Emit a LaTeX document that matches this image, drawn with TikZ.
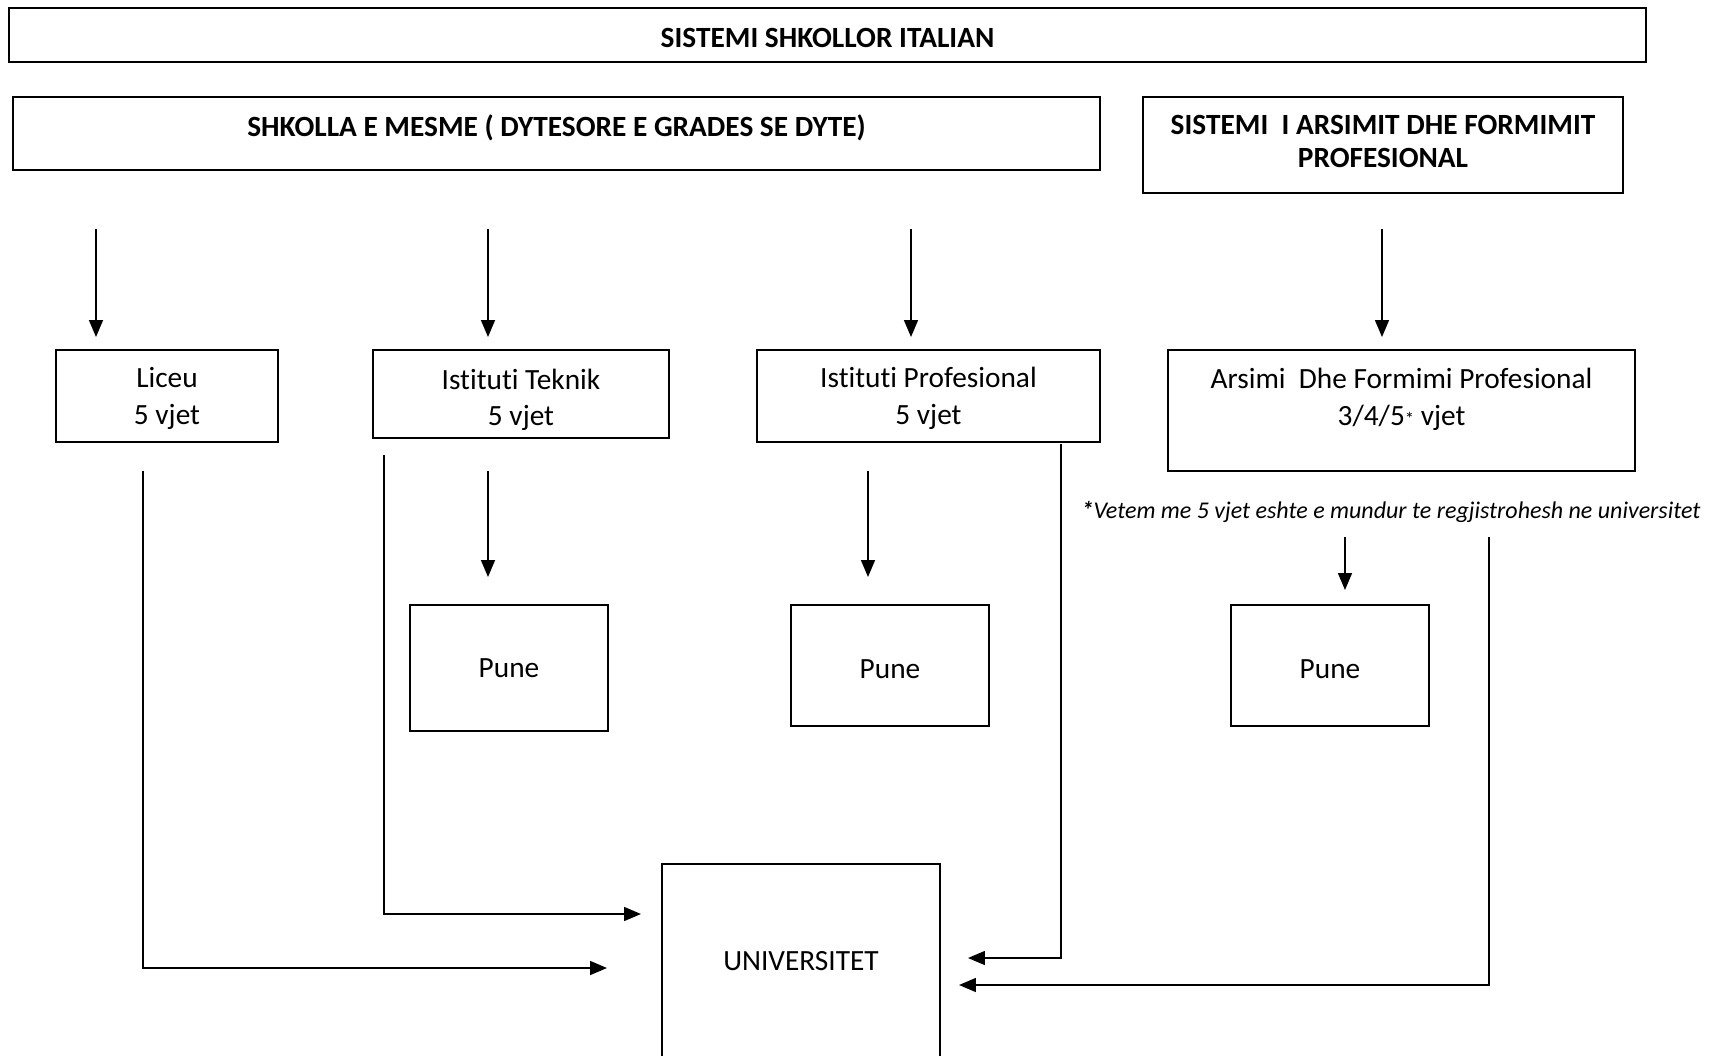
\documentclass[tikz,border=0pt]{standalone}
\usepackage{fontspec}
\setmainfont{Carlito}[Ligatures=CommonOff]
\usetikzlibrary{positioning, arrows.meta}

\begin{document}
\begin{tikzpicture}[x=0.375pt, y=-0.375pt,
  box/.style={draw, line width=0.75pt, align=center, inner sep=0pt, font=\fontsize{11}{13.7}\selectfont},
  head/.style={box, font=\fontsize{11}{12.4}\selectfont\bfseries},
  note/.style={font=\fontsize{9}{11}\selectfont\itshape, inner sep=0pt},
  arr/.style={line width=0.55pt, -{Triangle[length=6.3pt, width=5.2pt]}},
  link/.style={line width=0.55pt}]
\useasboundingbox (0,0) rectangle (1730,1055);

% Headers
\node[head, minimum width=1637*0.375pt, minimum height=54*0.375pt, text height=9pt, text depth=0pt] (title) at (827.5,35) {SISTEMI SHKOLLOR ITALIAN};
\node[head, minimum width=1087*0.375pt, minimum height=73*0.375pt, text depth=6pt] (mesme) at (556.5,133.5) {SHKOLLA E MESME ( DYTESORE E GRADES SE DYTE)};
\node[head, minimum width=480*0.375pt, minimum height=96*0.375pt, text depth=2.6pt] (sistemi) at (1383,145) {SISTEMI\ \ I ARSIMIT DHE FORMIMIT\\PROFESIONAL};

% Schools (\kern0pt keeps t and i apart)
\node[box, minimum width=222*0.375pt, minimum height=92*0.375pt, text depth=0pt] (liceu) at (167,396) {Liceu\\5 vjet};
\node[box, minimum width=296*0.375pt, minimum height=88*0.375pt, text depth=0pt] (teknik) at (521,394) {\rule{0pt}{10pt}Ist\kern0pt itut\kern0pt i Teknik\\5 vjet};
\node[box, minimum width=343*0.375pt, minimum height=92*0.375pt, text depth=0pt] (prof) at (928.5,396) {Ist\kern0pt itut\kern0pt i Profesional\\5 vjet};
\node[box, minimum width=467*0.375pt, minimum height=121*0.375pt, text depth=10.2pt] (arsimi) at (1401.5,410.5) {Arsimi\ \ Dhe Formimi Profesional\\3/4/5{\scriptsize*} vjet};
\node[note] (note) at (1391,512) {{\bfseries*}Vetem me 5 vjet eshte e mundur te regjistrohesh ne universitet};

% Work and university
\node[box, minimum width=198*0.375pt, minimum height=126*0.375pt] (pune1) at (509,668) {Pune};
\node[box, minimum width=198*0.375pt, minimum height=121*0.375pt, text height=9.5pt] (pune2) at (890,665.5) {Pune};
\node[box, minimum width=198*0.375pt, minimum height=121*0.375pt, text height=9.5pt] (pune3) at (1330,665.5) {Pune};
\node[box, minimum width=278*0.375pt, minimum height=194*0.375pt] (univ) at (801,961) {UNIVERSITET};

% Arrows from the headers
\foreach \x/\n in {96/1, 488/2, 911/3, 1382/4}{
  \coordinate (top\n) at (\x,229);
  \coordinate (bot\n) at (\x,337);
  \draw[arr] (top\n) -- (bot\n);
}

% Arrows to work
\coordinate (w1) at (488,471); \coordinate (w1e) at (488,577);
\coordinate (w2) at (868,471); \coordinate (w2e) at (868,577);
\coordinate (w3) at (1345,537); \coordinate (w3e) at (1345,590);
\draw[arr] (w1) -- (w1e);
\draw[arr] (w2) -- (w2e);
\draw[arr] (w3) -- (w3e);

% Lines to university
\coordinate (u1) at (143,471);  \coordinate (u1e) at (607,968);
\coordinate (u2) at (384,455);  \coordinate (u2e) at (641,914);
\coordinate (u3) at (1061,444); \coordinate (u3e) at (968,958);
\coordinate (u4) at (1489,537); \coordinate (u4e) at (959,985);
\draw[arr] (u1) |- (u1e);
\draw[arr] (u2) |- (u2e);
\draw[arr] (u3) |- (u3e);
\draw[arr] (u4) |- (u4e);
\end{tikzpicture}
\end{document}
